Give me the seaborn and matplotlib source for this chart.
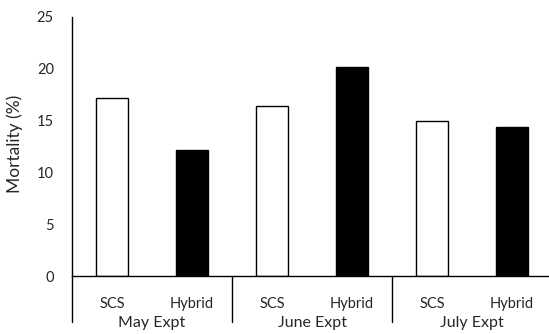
import pandas as pd
import matplotlib.pyplot as plt
import seaborn as sns

# values
months = ['May Expt', 'June Expt', 'July Expt']
types = ['SCS', 'Hybrid']
scs = [17.2, 16.4, 15.0]
hybrid = [12.2, 20.2, 14.4]

rows = []
for m, s, h in zip(months, scs, hybrid):
    rows.append({'bar': m + ' SCS', 'month': m, 'type': 'SCS', 'mortality': s})
    rows.append({'bar': m + ' Hybrid', 'month': m, 'type': 'Hybrid', 'mortality': h})
data = pd.DataFrame(rows)

sns.set_style('white')
plt.rcParams['font.family'] = ['Lato', 'DejaVu Sans']

fig = plt.figure(figsize=(5.49, 3.34), dpi=100)
ax = fig.add_axes([72 / 549, (334 - 276) / 334, 477 / 549, 259 / 334])

sns.barplot(data=data, x='bar', y='mortality', hue='type',
            palette={'SCS': 'white', 'Hybrid': 'black'},
            edgecolor='black', linewidth=1.0, width=0.4,
            dodge=False, legend=False, ax=ax)

ax.set_xlim(-0.5, -0.5 + 477 / 80)
ax.set_ylim(0, 25)
ax.set_yticks([0, 5, 10, 15, 20, 25])
ax.tick_params(axis='y', length=0, pad=13, labelsize=10.5)
ax.set_xticks(range(len(data)))
ax.set_xticklabels(data['type'], fontsize=10.5)
ax.tick_params(axis='x', length=0, pad=15)
ax.set_xlabel('')
ax.set_ylabel('Mortality (%)', fontsize=12.5)
ax.yaxis.set_label_coords(-0.103, 0.51)

for side in ['top', 'right']:
    ax.spines[side].set_visible(False)
for side in ['left', 'bottom']:
    ax.spines[side].set_color('black')
    ax.spines[side].set_linewidth(1.0)

# group separators below the axis
for x in [-0.5, 1.5, 3.5]:
    ax.plot([x, x], [0, -4.4], color='black', lw=1.0, clip_on=False)

for i, m in enumerate(months):
    ax.text(2 * i + 0.5, -4.5, m, ha='center', va='center', fontsize=11.5)

fig.savefig('out.png', dpi=100)
